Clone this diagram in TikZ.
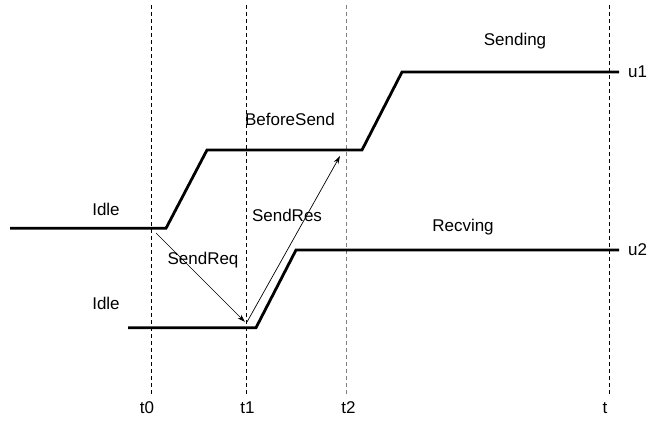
\documentclass[tikz,border=0pt]{standalone}
\usepackage{fontspec}
\setmainfont{Liberation Sans}
\usetikzlibrary{arrows.meta}
\begin{document}
\begin{tikzpicture}[x=1pt,y=-1pt,
  lbl/.style={font=\fontsize{17}{20}\selectfont, inner sep=0pt},
  wave/.style={line width=2.8pt, line join=miter},
  grid/.style={line width=0.8pt, dash pattern=on 4pt off 3pt},
  msg/.style={line width=0.7pt, -{Stealth[length=8pt,width=5pt]}}]
\useasboundingbox (0,0) rectangle (651,429);
% time marks
\coordinate (g0t) at (151,5);   \coordinate (g0b) at (151,396);
\coordinate (g1t) at (246,5);   \coordinate (g1b) at (246,396);
\coordinate (g2t) at (346,5);   \coordinate (g2b) at (346,396);
\coordinate (g3t) at (609,5);   \coordinate (g3b) at (609,396);
\draw[grid] (g0t) -- (g0b);
\draw[grid] (g1t) -- (g1b);
\draw[grid, draw=black!50] (g2t) -- (g2b);
\draw[grid] (g3t) -- (g3b);
\node[lbl] (t0) at (147,408) {t0};
\node[lbl] (t1) at (247.5,408) {t1};
\node[lbl] (t2) at (348.5,408) {t2};
\node[lbl] (tt) at (605,408) {t};
% u1 waveform
\coordinate (a0) at (10,228.3);
\coordinate (a1) at (166,228.3);
\coordinate (a2) at (207,150);
\coordinate (a3) at (362,150);
\coordinate (a4) at (402,72);
\coordinate (a5) at (619,72);
\draw[wave] (a0) -- (a1) -- (a2) -- (a3) -- (a4) -- (a5);
% u2 waveform
\coordinate (b0) at (128,327.7);
\coordinate (b1) at (256,327.7);
\coordinate (b2) at (296,250);
\coordinate (b3) at (619,250);
\draw[wave] (b0) -- (b1) -- (b2) -- (b3);
% signal labels
\node[lbl, anchor=west] (u1) at (628,72) {u1};
\node[lbl, anchor=west] (u2) at (628,250) {u2};
\node[lbl] (idle1) at (106,209) {Idle};
\node[lbl] (idle2) at (106,303) {Idle};
\node[lbl] (before) at (290,119) {BeforeSend};
\node[lbl] (sending) at (515,41) {Sending};
\node[lbl] (recving) at (463,227) {Recving};
% messages
\coordinate (r0) at (156,233);
\coordinate (r1) at (245,322);
\coordinate (s0) at (247,322);
\coordinate (s1) at (340,156);
\draw[msg] (r0) -- (r1);
\draw[msg] (s0) -- (s1);
\node[lbl] (sendreq) at (203,260) {SendReq};
\node[lbl] (sendres) at (287,215) {SendRes};
\end{tikzpicture}
\end{document}
